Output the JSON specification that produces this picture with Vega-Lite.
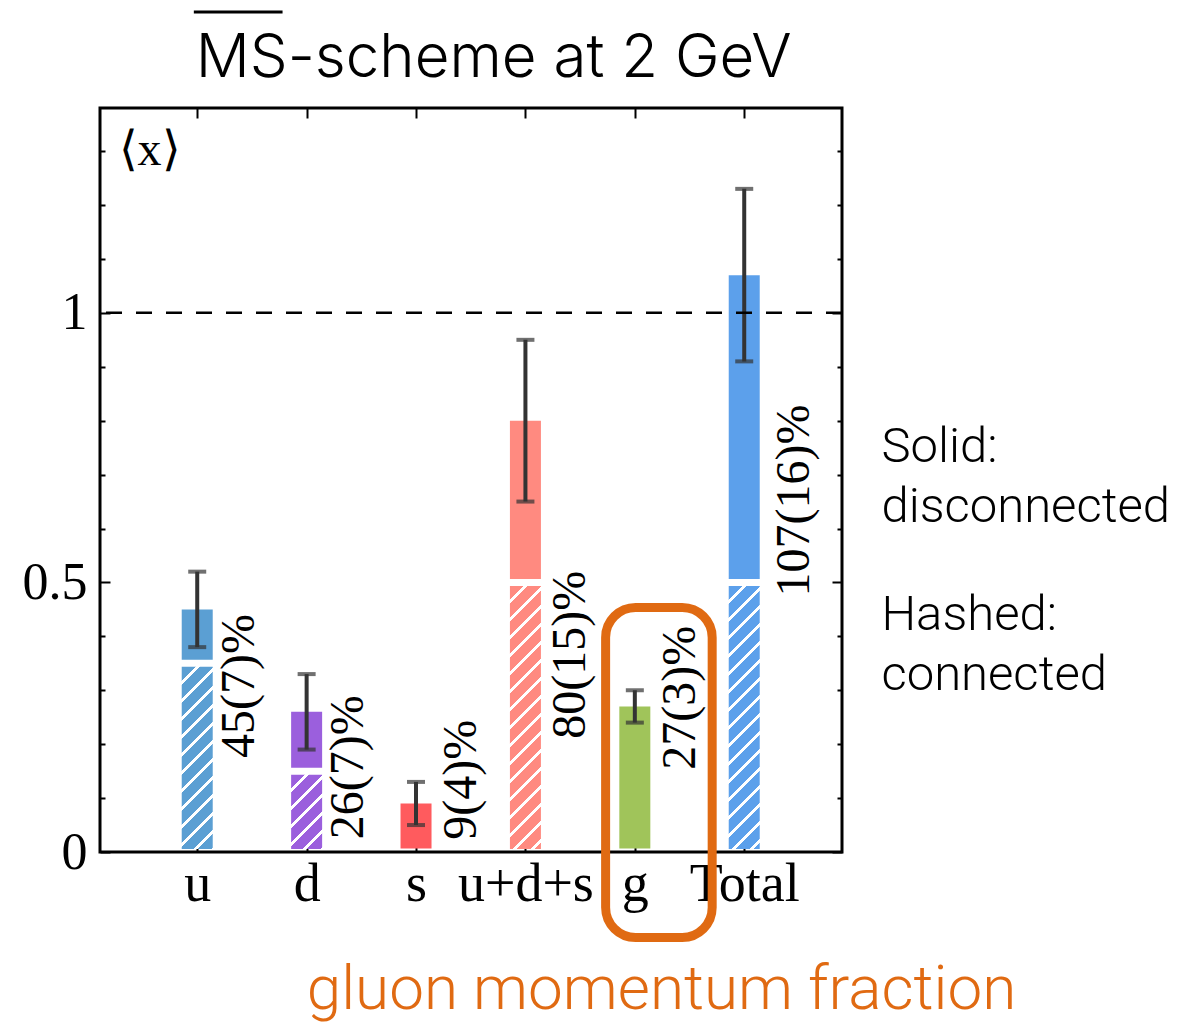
{
  "$schema": "https://vega.github.io/schema/vega-lite/v6.json",
  "width": 742,
  "height": 744,
  "autosize": {"type": "none"},
  "padding": {"left": 100, "top": 108, "right": 339, "bottom": 173},
  "background": "white",
  "data": {
    "values": [
      {"q": "u", "slot": 0, "total": 0.45, "err": 0.07, "conn": 0.35, "label": "45(7)%"},
      {"q": "d", "slot": 1, "total": 0.26, "err": 0.07, "conn": 0.15, "label": "26(7)%"},
      {"q": "s", "slot": 2, "total": 0.09, "err": 0.04, "conn": 0, "label": "9(4)%"},
      {"q": "u+d+s", "slot": 3, "total": 0.80, "err": 0.15, "conn": 0.50, "label": "80(15)%"},
      {"q": "g", "slot": 4, "total": 0.27, "err": 0.03, "conn": 0, "label": "27(3)%"},
      {"q": "Total", "slot": 5, "total": 1.07, "err": 0.16, "conn": 0.50, "label": "107(16)%"}
    ]
  },
  "layer": [
    {
      "layer": [
        {
          "mark": {"type": "bar", "orient": "vertical", "width": 31, "y2Offset": -3.5},
          "encoding": {
            "x": {
              "field": "slot",
              "type": "quantitative",
              "scale": {"domain": [-0.843, 5.848], "nice": false, "zero": false},
              "axis": {
                "orient": "bottom",
                "values": [0, 1, 2, 3, 4, 5],
                "labelExpr": "['u','d','s','u+d+s','g','Total'][datum.value]",
                "labelFont": "Liberation Serif",
                "labelFontSize": 54,
                "labelColor": "black",
                "labelPadding": 15,
                "labelFlush": false,
                "labelOverlap": false,
                "tickSize": -10,
                "tickWidth": 2,
                "tickColor": "black",
                "domain": false,
                "grid": false,
                "title": "gluon momentum fraction",
                "titleFont": "Roboto",
                "titleFontWeight": 300,
                "titleFontSize": 62,
                "titleColor": "#E06A12",
                "titleX": 561,
                "titleY": 156,
                "titleAlign": "center",
                "titleBaseline": "alphabetic"
              }
            },
            "y": {
              "field": "total",
              "type": "quantitative",
              "title": "\u27e8x\u27e9",
              "scale": {"domain": [0, 1.38], "nice": false, "zero": false},
              "axis": {
                "orient": "left",
                "values": [0, 0.1, 0.2, 0.3, 0.4, 0.5, 0.6, 0.7, 0.8, 0.9, 1, 1.1, 1.2, 1.3],
                "labelExpr": "datum.value == 0 ? '0' : datum.value == 0.5 ? '0.5' : datum.value == 1 ? '1' : ''",
                "labelFont": "Liberation Serif",
                "labelFontSize": 52,
                "labelColor": "black",
                "labelPadding": 23,
                "labelFlush": false,
                "labelOverlap": false,
                "tickSize": {"condition": {"test": "datum.value == 0 || datum.value == 0.5 || datum.value == 1", "value": -10}, "value": -5},
                "tickWidth": 2,
                "tickColor": "black",
                "domain": false,
                "grid": false,
                "title": "\u27e8x\u27e9",
                "titleAngle": 0,
                "titleX": 18,
                "titleY": 42,
                "titleAlign": "left",
                "titleBaseline": "middle",
                "titleFont": "Liberation Serif",
                "titleFontSize": 48,
                "titleFontWeight": "normal",
                "titleColor": "black"
              }
            },
            "y2": {"field": "conn"},
            "color": {
              "field": "q",
              "type": "nominal",
              "scale": {
                "domain": ["u", "d", "s", "u+d+s", "g", "Total"],
                "range": ["#5B9FD3", "#9B5FDD", "#FF5B5E", "#FF8A80", "#A0C45A", "#5CA0EB"]
              },
              "legend": null
            }
          }
        },
        {
          "transform": [{"filter": "datum.q === 'u'"}],
          "mark": {
            "type": "bar", "orient": "vertical", "width": 31, "yOffset": 3.5, "y2Offset": -3,
            "fill": {
              "gradient": "linear", "x1": 0, "y1": 0, "x2": 0.19603, "y2": 1.15216,
              "stops": [
                {"offset": 0, "color": "#5B9FD3"},
                {"offset": 0.0625, "color": "#5B9FD3"}, {"offset": 0.0625, "color": "#ffffff"}, {"offset": 0.0833, "color": "#ffffff"}, {"offset": 0.0833, "color": "#5B9FD3"},
                {"offset": 0.1458, "color": "#5B9FD3"}, {"offset": 0.1458, "color": "#ffffff"}, {"offset": 0.1667, "color": "#ffffff"}, {"offset": 0.1667, "color": "#5B9FD3"},
                {"offset": 0.2292, "color": "#5B9FD3"}, {"offset": 0.2292, "color": "#ffffff"}, {"offset": 0.25, "color": "#ffffff"}, {"offset": 0.25, "color": "#5B9FD3"},
                {"offset": 0.3125, "color": "#5B9FD3"}, {"offset": 0.3125, "color": "#ffffff"}, {"offset": 0.3333, "color": "#ffffff"}, {"offset": 0.3333, "color": "#5B9FD3"},
                {"offset": 0.3958, "color": "#5B9FD3"}, {"offset": 0.3958, "color": "#ffffff"}, {"offset": 0.4167, "color": "#ffffff"}, {"offset": 0.4167, "color": "#5B9FD3"},
                {"offset": 0.4792, "color": "#5B9FD3"}, {"offset": 0.4792, "color": "#ffffff"}, {"offset": 0.5, "color": "#ffffff"}, {"offset": 0.5, "color": "#5B9FD3"},
                {"offset": 0.5625, "color": "#5B9FD3"}, {"offset": 0.5625, "color": "#ffffff"}, {"offset": 0.5833, "color": "#ffffff"}, {"offset": 0.5833, "color": "#5B9FD3"},
                {"offset": 0.6458, "color": "#5B9FD3"}, {"offset": 0.6458, "color": "#ffffff"}, {"offset": 0.6667, "color": "#ffffff"}, {"offset": 0.6667, "color": "#5B9FD3"},
                {"offset": 0.7292, "color": "#5B9FD3"}, {"offset": 0.7292, "color": "#ffffff"}, {"offset": 0.75, "color": "#ffffff"}, {"offset": 0.75, "color": "#5B9FD3"},
                {"offset": 0.8125, "color": "#5B9FD3"}, {"offset": 0.8125, "color": "#ffffff"}, {"offset": 0.8333, "color": "#ffffff"}, {"offset": 0.8333, "color": "#5B9FD3"},
                {"offset": 0.8958, "color": "#5B9FD3"}, {"offset": 0.8958, "color": "#ffffff"}, {"offset": 0.9167, "color": "#ffffff"}, {"offset": 0.9167, "color": "#5B9FD3"},
                {"offset": 0.9792, "color": "#5B9FD3"}, {"offset": 0.9792, "color": "#ffffff"}, {"offset": 1, "color": "#ffffff"}
              ]
            }
          },
          "encoding": {
            "x": {"field": "slot", "type": "quantitative"},
            "y": {"field": "conn", "type": "quantitative", "title": "\u27e8x\u27e9"},
            "y2": {"datum": 0}
          }
        },
        {
          "transform": [{"filter": "datum.q === 'd'"}],
          "mark": {
            "type": "bar", "orient": "vertical", "width": 31, "yOffset": 3.5, "y2Offset": -3,
            "fill": {
              "gradient": "linear", "x1": 0, "y1": 0, "x2": 0.51572, "y2": 1.23723,
              "stops": [
                {"offset": 0, "color": "#9B5FDD"},
                {"offset": 0.125, "color": "#9B5FDD"}, {"offset": 0.125, "color": "#ffffff"}, {"offset": 0.1667, "color": "#ffffff"}, {"offset": 0.1667, "color": "#9B5FDD"},
                {"offset": 0.2917, "color": "#9B5FDD"}, {"offset": 0.2917, "color": "#ffffff"}, {"offset": 0.3333, "color": "#ffffff"}, {"offset": 0.3333, "color": "#9B5FDD"},
                {"offset": 0.4583, "color": "#9B5FDD"}, {"offset": 0.4583, "color": "#ffffff"}, {"offset": 0.5, "color": "#ffffff"}, {"offset": 0.5, "color": "#9B5FDD"},
                {"offset": 0.625, "color": "#9B5FDD"}, {"offset": 0.625, "color": "#ffffff"}, {"offset": 0.6667, "color": "#ffffff"}, {"offset": 0.6667, "color": "#9B5FDD"},
                {"offset": 0.7917, "color": "#9B5FDD"}, {"offset": 0.7917, "color": "#ffffff"}, {"offset": 0.8333, "color": "#ffffff"}, {"offset": 0.8333, "color": "#9B5FDD"},
                {"offset": 0.9583, "color": "#9B5FDD"}, {"offset": 0.9583, "color": "#ffffff"}, {"offset": 1, "color": "#ffffff"}
              ]
            }
          },
          "encoding": {
            "x": {"field": "slot", "type": "quantitative"},
            "y": {"field": "conn", "type": "quantitative", "title": "\u27e8x\u27e9"},
            "y2": {"datum": 0}
          }
        },
        {
          "transform": [{"filter": "datum.q === 'u+d+s'"}],
          "mark": {
            "type": "bar", "orient": "vertical", "width": 31, "yOffset": 3.5, "y2Offset": -3,
            "fill": {
              "gradient": "linear", "x1": 0, "y1": 0, "x2": 0.135191, "y2": 1.147248,
              "stops": [
                {"offset": 0, "color": "#FF8A80"},
                {"offset": 0.04412, "color": "#FF8A80"}, {"offset": 0.04412, "color": "#ffffff"}, {"offset": 0.05882, "color": "#ffffff"}, {"offset": 0.05882, "color": "#FF8A80"},
                {"offset": 0.10294, "color": "#FF8A80"}, {"offset": 0.10294, "color": "#ffffff"}, {"offset": 0.11765, "color": "#ffffff"}, {"offset": 0.11765, "color": "#FF8A80"},
                {"offset": 0.16176, "color": "#FF8A80"}, {"offset": 0.16176, "color": "#ffffff"}, {"offset": 0.17647, "color": "#ffffff"}, {"offset": 0.17647, "color": "#FF8A80"},
                {"offset": 0.22059, "color": "#FF8A80"}, {"offset": 0.22059, "color": "#ffffff"}, {"offset": 0.23529, "color": "#ffffff"}, {"offset": 0.23529, "color": "#FF8A80"},
                {"offset": 0.27941, "color": "#FF8A80"}, {"offset": 0.27941, "color": "#ffffff"}, {"offset": 0.29412, "color": "#ffffff"}, {"offset": 0.29412, "color": "#FF8A80"},
                {"offset": 0.33824, "color": "#FF8A80"}, {"offset": 0.33824, "color": "#ffffff"}, {"offset": 0.35294, "color": "#ffffff"}, {"offset": 0.35294, "color": "#FF8A80"},
                {"offset": 0.39706, "color": "#FF8A80"}, {"offset": 0.39706, "color": "#ffffff"}, {"offset": 0.41176, "color": "#ffffff"}, {"offset": 0.41176, "color": "#FF8A80"},
                {"offset": 0.45588, "color": "#FF8A80"}, {"offset": 0.45588, "color": "#ffffff"}, {"offset": 0.47059, "color": "#ffffff"}, {"offset": 0.47059, "color": "#FF8A80"},
                {"offset": 0.51471, "color": "#FF8A80"}, {"offset": 0.51471, "color": "#ffffff"}, {"offset": 0.52941, "color": "#ffffff"}, {"offset": 0.52941, "color": "#FF8A80"},
                {"offset": 0.57353, "color": "#FF8A80"}, {"offset": 0.57353, "color": "#ffffff"}, {"offset": 0.58824, "color": "#ffffff"}, {"offset": 0.58824, "color": "#FF8A80"},
                {"offset": 0.63235, "color": "#FF8A80"}, {"offset": 0.63235, "color": "#ffffff"}, {"offset": 0.64706, "color": "#ffffff"}, {"offset": 0.64706, "color": "#FF8A80"},
                {"offset": 0.69118, "color": "#FF8A80"}, {"offset": 0.69118, "color": "#ffffff"}, {"offset": 0.70588, "color": "#ffffff"}, {"offset": 0.70588, "color": "#FF8A80"},
                {"offset": 0.75, "color": "#FF8A80"}, {"offset": 0.75, "color": "#ffffff"}, {"offset": 0.76471, "color": "#ffffff"}, {"offset": 0.76471, "color": "#FF8A80"},
                {"offset": 0.80882, "color": "#FF8A80"}, {"offset": 0.80882, "color": "#ffffff"}, {"offset": 0.82353, "color": "#ffffff"}, {"offset": 0.82353, "color": "#FF8A80"},
                {"offset": 0.86765, "color": "#FF8A80"}, {"offset": 0.86765, "color": "#ffffff"}, {"offset": 0.88235, "color": "#ffffff"}, {"offset": 0.88235, "color": "#FF8A80"},
                {"offset": 0.92647, "color": "#FF8A80"}, {"offset": 0.92647, "color": "#ffffff"}, {"offset": 0.94118, "color": "#ffffff"}, {"offset": 0.94118, "color": "#FF8A80"},
                {"offset": 0.98529, "color": "#FF8A80"}, {"offset": 0.98529, "color": "#ffffff"}, {"offset": 1, "color": "#ffffff"}
              ]
            }
          },
          "encoding": {
            "x": {"field": "slot", "type": "quantitative"},
            "y": {"field": "conn", "type": "quantitative", "title": "\u27e8x\u27e9"},
            "y2": {"datum": 0}
          }
        },
        {
          "transform": [{"filter": "datum.q === 'Total'"}],
          "mark": {
            "type": "bar", "orient": "vertical", "width": 31, "yOffset": 3.5, "y2Offset": -3,
            "fill": {
              "gradient": "linear", "x1": 0, "y1": 0, "x2": 0.135191, "y2": 1.147248,
              "stops": [
                {"offset": 0, "color": "#5CA0EB"},
                {"offset": 0.04412, "color": "#5CA0EB"}, {"offset": 0.04412, "color": "#ffffff"}, {"offset": 0.05882, "color": "#ffffff"}, {"offset": 0.05882, "color": "#5CA0EB"},
                {"offset": 0.10294, "color": "#5CA0EB"}, {"offset": 0.10294, "color": "#ffffff"}, {"offset": 0.11765, "color": "#ffffff"}, {"offset": 0.11765, "color": "#5CA0EB"},
                {"offset": 0.16176, "color": "#5CA0EB"}, {"offset": 0.16176, "color": "#ffffff"}, {"offset": 0.17647, "color": "#ffffff"}, {"offset": 0.17647, "color": "#5CA0EB"},
                {"offset": 0.22059, "color": "#5CA0EB"}, {"offset": 0.22059, "color": "#ffffff"}, {"offset": 0.23529, "color": "#ffffff"}, {"offset": 0.23529, "color": "#5CA0EB"},
                {"offset": 0.27941, "color": "#5CA0EB"}, {"offset": 0.27941, "color": "#ffffff"}, {"offset": 0.29412, "color": "#ffffff"}, {"offset": 0.29412, "color": "#5CA0EB"},
                {"offset": 0.33824, "color": "#5CA0EB"}, {"offset": 0.33824, "color": "#ffffff"}, {"offset": 0.35294, "color": "#ffffff"}, {"offset": 0.35294, "color": "#5CA0EB"},
                {"offset": 0.39706, "color": "#5CA0EB"}, {"offset": 0.39706, "color": "#ffffff"}, {"offset": 0.41176, "color": "#ffffff"}, {"offset": 0.41176, "color": "#5CA0EB"},
                {"offset": 0.45588, "color": "#5CA0EB"}, {"offset": 0.45588, "color": "#ffffff"}, {"offset": 0.47059, "color": "#ffffff"}, {"offset": 0.47059, "color": "#5CA0EB"},
                {"offset": 0.51471, "color": "#5CA0EB"}, {"offset": 0.51471, "color": "#ffffff"}, {"offset": 0.52941, "color": "#ffffff"}, {"offset": 0.52941, "color": "#5CA0EB"},
                {"offset": 0.57353, "color": "#5CA0EB"}, {"offset": 0.57353, "color": "#ffffff"}, {"offset": 0.58824, "color": "#ffffff"}, {"offset": 0.58824, "color": "#5CA0EB"},
                {"offset": 0.63235, "color": "#5CA0EB"}, {"offset": 0.63235, "color": "#ffffff"}, {"offset": 0.64706, "color": "#ffffff"}, {"offset": 0.64706, "color": "#5CA0EB"},
                {"offset": 0.69118, "color": "#5CA0EB"}, {"offset": 0.69118, "color": "#ffffff"}, {"offset": 0.70588, "color": "#ffffff"}, {"offset": 0.70588, "color": "#5CA0EB"},
                {"offset": 0.75, "color": "#5CA0EB"}, {"offset": 0.75, "color": "#ffffff"}, {"offset": 0.76471, "color": "#ffffff"}, {"offset": 0.76471, "color": "#5CA0EB"},
                {"offset": 0.80882, "color": "#5CA0EB"}, {"offset": 0.80882, "color": "#ffffff"}, {"offset": 0.82353, "color": "#ffffff"}, {"offset": 0.82353, "color": "#5CA0EB"},
                {"offset": 0.86765, "color": "#5CA0EB"}, {"offset": 0.86765, "color": "#ffffff"}, {"offset": 0.88235, "color": "#ffffff"}, {"offset": 0.88235, "color": "#5CA0EB"},
                {"offset": 0.92647, "color": "#5CA0EB"}, {"offset": 0.92647, "color": "#ffffff"}, {"offset": 0.94118, "color": "#ffffff"}, {"offset": 0.94118, "color": "#5CA0EB"},
                {"offset": 0.98529, "color": "#5CA0EB"}, {"offset": 0.98529, "color": "#ffffff"}, {"offset": 1, "color": "#ffffff"}
              ]
            }
          },
          "encoding": {
            "x": {"field": "slot", "type": "quantitative"},
            "y": {"field": "conn", "type": "quantitative", "title": "\u27e8x\u27e9"},
            "y2": {"datum": 0}
          }
        },
        {
          "mark": {
            "type": "errorbar",
            "color": "#333333",
            "rule": {"strokeWidth": 4},
            "ticks": {"size": 18, "thickness": 4}
          },
          "encoding": {
            "x": {"field": "slot", "type": "quantitative"},
            "y": {"field": "total", "type": "quantitative", "title": "\u27e8x\u27e9"},
            "yError": {"field": "err"}
          }
        },
        {
          "transform": [{"filter": "datum.q === 'u'"}],
          "mark": {"type": "text", "angle": 270, "align": "center", "baseline": "middle", "font": "Liberation Serif", "fontSize": 48, "color": "black", "dy": 42.5},
          "encoding": {"x": {"field": "slot", "type": "quantitative"}, "y": {"datum": 0.308}, "text": {"field": "label"}}
        },
        {
          "transform": [{"filter": "datum.q === 'd'"}],
          "mark": {"type": "text", "angle": 270, "align": "center", "baseline": "middle", "font": "Liberation Serif", "fontSize": 48, "color": "black", "dy": 42.6},
          "encoding": {"x": {"field": "slot", "type": "quantitative"}, "y": {"datum": 0.157}, "text": {"field": "label"}}
        },
        {
          "transform": [{"filter": "datum.q === 's'"}],
          "mark": {"type": "text", "angle": 270, "align": "center", "baseline": "middle", "font": "Liberation Serif", "fontSize": 48, "color": "black", "dy": 45.7},
          "encoding": {"x": {"field": "slot", "type": "quantitative"}, "y": {"datum": 0.134}, "text": {"field": "label"}}
        },
        {
          "transform": [{"filter": "datum.q === 'u+d+s'"}],
          "mark": {"type": "text", "angle": 270, "align": "center", "baseline": "middle", "font": "Liberation Serif", "fontSize": 48, "color": "black", "dy": 45.8},
          "encoding": {"x": {"field": "slot", "type": "quantitative"}, "y": {"datum": 0.366}, "text": {"field": "label"}}
        },
        {
          "transform": [{"filter": "datum.q === 'g'"}],
          "mark": {"type": "text", "angle": 270, "align": "center", "baseline": "middle", "font": "Liberation Serif", "fontSize": 48, "color": "black", "dy": 45.9},
          "encoding": {"x": {"field": "slot", "type": "quantitative"}, "y": {"datum": 0.286}, "text": {"field": "label"}}
        },
        {
          "transform": [{"filter": "datum.q === 'Total'"}],
          "mark": {"type": "text", "angle": 270, "align": "center", "baseline": "middle", "font": "Liberation Serif", "fontSize": 48, "color": "black", "dy": 51},
          "encoding": {"x": {"field": "slot", "type": "quantitative"}, "y": {"datum": 0.652}, "text": {"field": "label"}}
        },
        {
          "data": {"values": [{"level": 1}]},
          "mark": {"type": "rule", "strokeDash": [16, 14], "strokeWidth": 2.5, "color": "black"},
          "encoding": {"y": {"field": "level", "type": "quantitative", "title": "\u27e8x\u27e9"}}
        },
        {
          "data": {"values": [{"heading": "MS-scheme at 2 GeV"}]},
          "mark": {"type": "text", "align": "center", "baseline": "alphabetic", "font": "Inter", "fontWeight": 300, "fontSize": 60, "color": "black"},
          "encoding": {
            "x": {"datum": 2.71},
            "y": {"datum": 1.4375},
            "text": {"field": "heading"}
          }
        },
        {
          "data": {"values": [{"bar": "MS"}]},
          "mark": {"type": "rule", "strokeWidth": 3, "color": "black"},
          "encoding": {
            "x": {"datum": -0.031},
            "x2": {"datum": 0.78},
            "y": {"datum": 1.558}
          }
        },
        {
          "transform": [{"filter": "datum.q === 'g'"}],
          "mark": {"type": "rect", "filled": false, "color": "#E06A12", "strokeWidth": 9, "cornerRadius": 30},
          "encoding": {
            "x": {"datum": 3.733},
            "x2": {"datum": 4.707},
            "y": {"datum": 0.4535},
            "y2": {"datum": -0.1586}
          }
        },
        {
          "data": {"values": [{"lines": ["Solid:", "disconnected"]}]},
          "mark": {"type": "text", "align": "left", "baseline": "alphabetic", "font": "Roboto", "fontWeight": 300, "fontSize": 49, "lineHeight": 60, "color": "black"},
          "encoding": {"x": {"datum": 6.254}, "y": {"datum": 0.7234}, "text": {"field": "lines"}}
        },
        {
          "data": {"values": [{"lines": ["Hashed:", "connected"]}]},
          "mark": {"type": "text", "align": "left", "baseline": "alphabetic", "font": "Roboto", "fontWeight": 300, "fontSize": 49, "lineHeight": 60, "color": "black"},
          "encoding": {"x": {"datum": 6.254}, "y": {"datum": 0.4118}, "text": {"field": "lines"}}
        }
      ]
    },
    {
      "mark": {"type": "point", "opacity": 0},
      "encoding": {
        "x": {
          "field": "slot",
          "type": "quantitative",
          "axis": {"orient": "top", "values": [0, 1, 2, 3, 4, 5], "labels": false, "tickSize": -10, "tickWidth": 2, "tickColor": "black", "domain": false, "grid": false, "title": null}
        },
        "y": {
          "field": "total",
          "type": "quantitative",
          "axis": {
            "orient": "right",
            "values": [0, 0.1, 0.2, 0.3, 0.4, 0.5, 0.6, 0.7, 0.8, 0.9, 1, 1.1, 1.2, 1.3],
            "labels": false,
            "tickSize": {"condition": {"test": "datum.value == 0 || datum.value == 0.5 || datum.value == 1", "value": -10}, "value": -5},
            "tickWidth": 2,
            "tickColor": "black",
            "domain": false,
            "grid": false,
            "title": null
          }
        }
      }
    }
  ],
  "resolve": {"axis": {"x": "independent", "y": "independent"}},
  "config": {
    "view": {"stroke": "black", "strokeWidth": 3},
    "axis": {"grid": false}
  }
}
